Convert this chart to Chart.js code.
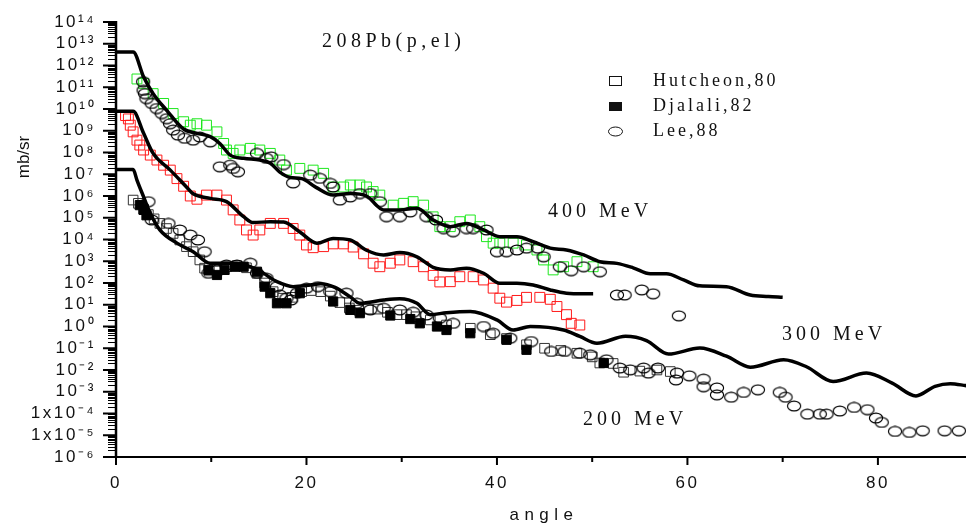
<!DOCTYPE html>
<html><head><meta charset="utf-8">
<script src="https://cdn.jsdelivr.net/npm/chart.js@4.4.1/dist/chart.umd.min.js"></script>
<style>html,body{margin:0;padding:0;background:#fff;overflow:hidden}canvas{display:block}</style>
</head><body>
<canvas id="c" width="966" height="527"></canvas>
<script>
// ---------- tick labels ----------
const yTickValues = [1e14,1e13,1e12,1e11,1e10,1e9,1e8,1e7,1e6,1e5,1e4,1e3,1e2,1e1,1e0,1e-1,1e-2,1e-3,1e-4,1e-5,1e-6];
const yTickLabels = ['10¹⁴','10¹³','10¹²','10¹¹','10¹⁰','10⁹','10⁸','10⁷','10⁶','10⁵','10⁴','10³','10²','10¹','10⁰','10⁻¹','10⁻²','10⁻³','1x10⁻⁴','1x10⁻⁵','10⁻⁶'];
const xTickValues = [0,20,40,60,80];
const xTickLabels = ['0','20','40','60','80'];
const xMinorTicks = [10,30,50,70];

// ---------- theory curves ----------
const t400Angle = [0,1.8,2.9,3.9,5.3,7.1,8.5,9.9,10.9,12.0,13.4,15.1,16.2,17.2,18.3,19.5,21.0,22.8,24.6,26.3,28.1,29.8,31.6,33.3,35.1,36.8,38.6,40.3,42.1,43.8,45.6,47.3,49.1,50.8,52.6,54.3,56.1,57.8,59.6,61.3,64.1,66.6,68.5,70.0];
const t400Value = [4.2e12,4.2e12,3.0e11,5.1e10,8.9e9,1.2e9,7.6e8,5.4e8,2.6e8,7.6e7,5.4e7,4.5e7,3.2e7,1.26e7,7.1e6,6.3e6,2.5e6,1.1e6,1.3e6,1.0e6,2.3e5,2.3e5,2.7e5,7.9e4,3.9e4,5.5e4,2.75e4,1.35e4,1.35e4,7.9e3,4.0e3,3.3e3,1.95e3,955,800,500,263,263,138,74,68,28,24,22];

const t300Angle = [0,1.8,2.9,3.9,5.7,7.4,8.1,9.9,11.6,13.4,14.4,16.2,17.6,19.3,21.1,22.8,24.6,26.3,28.1,29.8,31.6,33.3,35.1,36.8,38.6,40.3,42.1,43.8,45.6,47.3,49.1,50.1];
const t300Value = [7.8e9,7.8e9,7.6e8,9.1e7,1.55e7,2.6e6,1.26e6,7.8e5,5.5e5,1.12e5,6.0e4,6.6e4,6.3e4,2.2e4,6.8e3,1.12e4,9.5e3,3.2e3,1.95e3,2.5e3,1.6e3,525,400,480,280,98,98,81,48,34,32,32];

const t200Angle = [0,1.8,2.2,2.9,3.6,4.6,6.4,8.1,9.9,11.6,13.4,15.1,16.9,18.6,20.4,21.5,23.0,24.6,25.6,28.1,29.8,31.6,33.0,34.7,37.2,40.0,41.7,43.5,47.0,48.7,50.5,53.5,55.7,58.0,61.3,64.1,66.6,70.1,72.5,75.3,78.8,81.5,84.0,86.0,87.6,89.3];
const t200Value = [1.66e7,1.66e7,5.4e6,9.1e5,1.6e5,2.75e4,6.8e3,2.75e3,813,813,708,355,115,68,81,93,63,23,11.7,16.6,19,11.7,3.5,4.3,4.9,2.0,0.69,1.0,0.69,0.35,0.17,0.355,0.224,0.054,0.102,0.043,0.0135,0.0295,0.0141,0.00295,0.00724,0.0025,0.000646,0.00178,0.00234,0.0019];

// ---------- Hutcheon,80 (open squares) ----------
const hut400Angle = [2.2,2.9,3.9,5.0,6.0,7.1,7.8,8.5,9.5,10.6,11.3,11.6,12.3,13.0,14.1,15.1,16.2,17.2,17.9,19.3,20.7,21.8,22.8,23.9,24.6,25.6,26.3,27.0,27.7,29.1,30.2,31.2,32.3,33.3,34.0,35.1,36.1,37.2,38.2,38.9,39.6,40.3,41.7,43.1,44.2,44.9,45.9,47.0,48.4,50.1];
const hut400Value = [2.4e11,1.5e11,5.1e10,1.8e10,6.2e9,2.6e9,1.8e9,2.1e9,1.8e9,8.9e8,2.6e8,1.3e8,9.1e7,1.3e8,1.55e8,1.3e8,9.1e7,4.5e7,1.55e7,1.86e7,1.55e7,1.1e7,2.6e6,2.6e6,3.2e6,3.2e6,2.6e6,1.6e6,1.1e6,3.8e5,4.6e5,5.5e5,3.8e5,1.1e5,3.9e4,3.9e4,6.6e4,7.9e4,3.9e4,1.35e4,6.8e3,6.8e3,6.8e3,5.6e3,3.3e3,1.15e3,400,560,955,560];

const hut300Angle = [1.0,1.3,1.5,1.8,2.2,2.5,2.9,3.6,4.3,5.0,5.7,6.4,7.1,7.8,8.5,9.5,10.6,11.6,12.3,13.0,13.7,14.4,15.1,16.2,17.6,18.6,19.3,20.0,20.7,21.8,22.8,23.9,24.9,26.0,27.0,27.7,28.8,29.8,31.2,32.3,33.3,34.0,35.1,36.1,37.5,38.6,39.6,40.3,41.0,42.1,43.1,44.5,45.6,46.3,47.3,47.8,48.7];
const hut300Value = [5.0e9,3.5e9,1.8e9,8.9e8,3.7e8,2.2e8,1.3e8,7.6e7,4.5e7,2.6e7,1.55e7,6.3e6,2.8e6,1.0e6,7.1e5,1.1e6,1.1e6,6.5e5,2.3e5,7.9e4,2.75e4,1.6e4,2.75e4,5.5e4,5.5e4,3.2e4,1.6e4,5.6e3,4.2e3,4.7e3,6.3e3,6.3e3,4.5e3,2.2e3,813,560,813,1.15e3,955,560,224,112,115,195,195,138,58,20,13.2,15.8,21.9,21.9,17.8,8.3,3.5,1.4,1.17];

const hut200Angle = [1.8,2.35,2.9,3.4,4.0,4.6,5.3,6.0,6.7,7.4,8.1,8.8,9.3,9.8,10.6,11.6,12.7,13.7,14.8,15.6,16.5,17.5,18.5,19.5,20.5,21.5,22.5,23.5,24.5,25.5,26.5,27.5,28.5,29.5,30.5,31.5,33.0,34.7,37.2,39.3,41.0,43.1,45.0,46.7,48.4,50.0,50.8,52.2,53.3,55.0,56.8,58.2];
const hut200Value = [6.5e5,4.6e5,2.5e5,1.4e5,8.9e4,5.5e4,3.2e4,1.9e4,9.5e3,4.7e3,2.75e3,1.15e3,480,355,355,560,630,500,280,100,40,20,22,40,45,40,25,12.6,7.1,5.6,6.3,6.3,4.5,3.5,3.5,2.8,2.0,1.17,0.83,0.42,0.28,0.145,0.1,0.079,0.059,0.04,0.021,0.02,0.0079,0.0089,0.01,0.0085];

// ---------- Djalali,82 (filled squares) ----------
const dja200Angle = [2.5,2.9,3.2,9.7,10.6,11.4,12.5,13.4,14.8,15.6,16.2,16.9,17.9,19.3,22.8,24.6,25.6,28.8,30.9,31.9,33.7,34.7,37.2,41.0,43.1,51.2];
const dja200Value = [3.8e5,2.3e5,1.3e5,400,234,400,560,560,330,68,34,11.7,11.7,34,14.1,5.8,4.1,3.2,2.2,1.4,1.0,0.69,0.49,0.245,0.085,0.021];

// ---------- Lee,88 (open circles) ----------
const lee400Angle = [2.85,2.9,3.04,3.2,3.75,4.27,4.8,5.32,5.67,6.0,6.5,7.2,8.1,8.8,9.9,10.9,12.0,12.3,12.8,14.8,15.8,16.3,17.6,18.6,20.4,21.4,22.5,22.8,23.5,24.6,25.6,26.7,27.7,28.4,29.8,30.9,32.6,33.6,34.4,35.4,36.8,37.5,38.9,40.0,41.0,42.1,43.1,44.3,44.9,46.6,47.8,49.1,50.8,52.6,53.4,55.2,56.4,59.1];
const lee400Value = [1.8e11,7.2e10,5.1e10,3.0e10,1.8e10,1.05e10,6.2e9,3.6e9,2.1e9,1.07e9,6.3e8,4.5e8,3.7e8,5.2e8,3.1e8,2.2e7,2.6e7,1.86e7,1.3e7,9.1e7,5.4e7,6.3e7,2.8e7,4.0e6,9.1e6,6.5e6,3.8e6,2.6e6,6.5e5,9.1e5,1.3e6,1.3e6,5.5e5,1.12e5,1.12e5,1.86e5,1.12e5,7.9e4,3.2e4,2.3e4,3.2e4,3.2e4,2.75e4,2.75e3,2.75e3,3.3e3,4.0e3,4.0e3,1.6e3,560,370,560,330,28,28,48,32,3.1];

const lee200Angle = [3.4,3.75,5.5,6.7,7.8,8.6,9.3,9.7,10.6,11.6,12.7,14.1,14.8,15.8,16.9,17.2,17.9,18.4,19.0,20.0,21.2,22.5,24.2,25.3,26.7,28.1,29.8,31.2,32.6,34.0,35.4,38.6,39.6,41.4,43.6,45.7,47.1,48.7,49.8,51.5,52.9,54.0,55.4,55.9,56.9,58.8,58.9,60.2,61.7,61.7,63.1,63.1,64.6,65.9,67.4,69.7,70.3,71.2,72.6,73.9,74.6,76.0,77.5,78.9,79.8,80.4,81.8,83.3,84.7,87.0,88.5];
const lee200Value = [5.5e5,7.9e4,5.5e4,2.75e4,1.6e4,9.5e3,2.75e3,280,400,676,676,813,280,166,68,28,20,16.6,34,58,68,40,34,11.7,5.8,6.9,5.8,4.5,3.4,2.4,1.4,1.0,0.49,0.29,0.204,0.071,0.071,0.059,0.05,0.0295,0.0123,0.0102,0.0123,0.0072,0.0123,0.0035,0.0072,0.0054,0.0038,0.0017,0.0015,0.00072,0.00056,0.00093,0.00123,0.00093,0.00056,0.00022,9.3e-5,9.3e-5,9.3e-5,1.3e-4,1.9e-4,1.5e-4,6.2e-5,3.9e-5,1.5e-5,1.35e-5,1.6e-5,1.6e-5,1.6e-5];

// ---------- text ----------
const titleText = '208Pb(p,el)';
const legendLabels = ['Hutcheon,80','Djalali,82','Lee,88'];
const energyLabels = ['400 MeV','300 MeV','200 MeV'];
const xTitle = 'angle';
const yTitle = 'mb/sr';

// ---------- rendering ----------
const ellipseMark = (() => {
  const c = document.createElement('canvas'); c.width = 16; c.height = 12;
  const g = c.getContext('2d'); g.strokeStyle = '#000'; g.lineWidth = 1.15;
  g.beginPath(); g.ellipse(8, 6, 6.6, 4.9, 0, 0, Math.PI * 2); g.stroke();
  return c;
})();
const pts = (a, v) => a.map((x, i) => ({x, y: v[i]}));
const lineDs = (a, v) => ({data: pts(a, v), borderColor: '#000', borderWidth: 3.5, pointRadius: 0,
  fill: false, cubicInterpolationMode: 'monotone', showLine: true, borderJoinStyle: 'round'});
const markDs = (a, v, style, color, fill, r) => ({data: pts(a, v), showLine: false, pointStyle: style,
  pointRadius: r, borderColor: color, backgroundColor: fill, pointBorderWidth: 1, pointBackgroundColor: fill, pointBorderColor: color});

const hline = (ctx, x1, x2, yy, w) => { ctx.fillRect(x1, yy - w / 2, x2 - x1, w); };
const vline = (ctx, xx, y1, y2, w) => { ctx.fillRect(xx - w / 2, y1, w, y2 - y1); };

const decor = {
  id: 'decor',
  beforeDraw(chart) { chart.ctx.letterSpacing = '2.5px'; },
  afterDraw(chart) {
    const {ctx, chartArea: a, scales: {x, y}} = chart;
    ctx.save();
    ctx.letterSpacing = '0px';
    ctx.fillStyle = '#000';
    // axis lines
    vline(ctx, a.left, a.top - 1, a.bottom + 1, 2.5);
    hline(ctx, a.left - 13, a.right, a.bottom, 2);
    // y ticks (major + minor)
    yTickValues.forEach(v => {
      const py = y.getPixelForValue(v);
      hline(ctx, a.left - 13, a.left, py, 2);
      if (v < 1e14) {
        for (let m = 2; m <= 9; m++) {
          const pm = Math.round(y.getPixelForValue(m * v)) + 0.5;
          hline(ctx, a.left - 8, a.left, pm, 1);
        }
      }
    });
    // x ticks
    xTickValues.forEach(v => vline(ctx, x.getPixelForValue(v), a.bottom, a.bottom + 8, 2));
    xMinorTicks.forEach(v => vline(ctx, x.getPixelForValue(v), a.bottom, a.bottom + 5, 2));

    ctx.fillStyle = '#111';
    ctx.textBaseline = 'middle';
    ctx.textAlign = 'left';
    // title
    ctx.font = '20px "Liberation Serif", "Times New Roman", serif';
    ctx.letterSpacing = '4.5px';
    ctx.fillText(titleText, 322, 42);
    // legend
    const rows = [81, 106.5, 131.5];
    ctx.lineWidth = 1; ctx.strokeStyle = '#111';
    ctx.strokeRect(609.5, rows[0] - 4.5, 12, 9);
    ctx.fillRect(609, rows[1] - 4.5, 13, 9);
    ctx.beginPath(); ctx.ellipse(615.5, rows[2], 7, 4.5, 0, 0, Math.PI * 2); ctx.stroke();
    ctx.font = '18px "Liberation Serif", "Times New Roman", serif';
    ctx.letterSpacing = '3px';
    legendLabels.forEach((t, i) => ctx.fillText(t, 653, rows[i]));
    // energy labels
    ctx.font = '20px "Liberation Serif", "Times New Roman", serif';
    ctx.letterSpacing = '4px';
    ctx.fillText(energyLabels[0], 548, 212);
    ctx.fillText(energyLabels[1], 782, 335);
    ctx.fillText(energyLabels[2], 583, 420);
    // axis titles
    ctx.font = '17px "Liberation Sans", Arial, sans-serif';
    ctx.letterSpacing = '5.5px'; ctx.textAlign = 'center';
    ctx.fillText(xTitle, (a.left + a.right) / 2 + 3, 515);
    ctx.letterSpacing = '0px';
    ctx.translate(24, 157); ctx.rotate(-Math.PI / 2);
    ctx.fillText(yTitle, 0, 0);
    ctx.restore();
  }
};

new Chart(document.getElementById('c'), {
  type: 'line',
  data: {
    datasets: [
      lineDs(t400Angle, t400Value),
      lineDs(t300Angle, t300Value),
      lineDs(t200Angle, t200Value),
      markDs(lee400Angle, lee400Value, ellipseMark, '#000', 'rgba(0,0,0,0)', 6),
      markDs(lee200Angle, lee200Value, ellipseMark, '#000', 'rgba(0,0,0,0)', 6),
      markDs(dja200Angle, dja200Value, 'rect', '#000', '#000', 6.5),
      markDs(hut200Angle, hut200Value, 'rect', '#333', 'rgba(0,0,0,0)', 6.8),
      markDs(hut300Angle, hut300Value, 'rect', '#ff1a1a', 'rgba(0,0,0,0)', 7),
      markDs(hut400Angle, hut400Value, 'rect', '#1ee81e', 'rgba(0,0,0,0)', 7)
    ]
  },
  options: {
    responsive: false, devicePixelRatio: 1, animation: false, events: [],
    layout: {autoPadding: false, padding: {top: 22, right: 0, bottom: 0, left: 0}},
    plugins: {legend: {display: false}, tooltip: {enabled: false}, title: {display: false}},
    scales: {
      x: {
        type: 'linear', min: 0, max: 89.25,
        grid: {display: false, drawTicks: false}, border: {display: false},
        afterBuildTicks: s => { s.ticks = xTickValues.map(v => ({value: v})); },
        afterFit: s => { s.height = 70; s.paddingLeft = 0; s.paddingRight = 0; },
        ticks: {autoSkip: false, maxRotation: 0, padding: 16, color: '#111',
          font: {family: '"Liberation Sans", Arial, sans-serif', size: 17},
          callback: (v, i) => xTickLabels[i]}
      },
      y: {
        type: 'logarithmic', min: 1e-6, max: 1e14,
        grid: {display: false, drawTicks: false}, border: {display: false},
        afterBuildTicks: s => { s.ticks = yTickValues.map(v => ({value: v})); },
        afterFit: s => { s.width = 116; s.paddingTop = 0; s.paddingBottom = 0; },
        ticks: {autoSkip: false, padding: 20, color: '#111',
          font: {family: '"Liberation Sans", Arial, sans-serif', size: 17},
          callback: (v, i) => yTickLabels[i]}
      }
    }
  },
  plugins: [decor]
});
</script></body></html>
